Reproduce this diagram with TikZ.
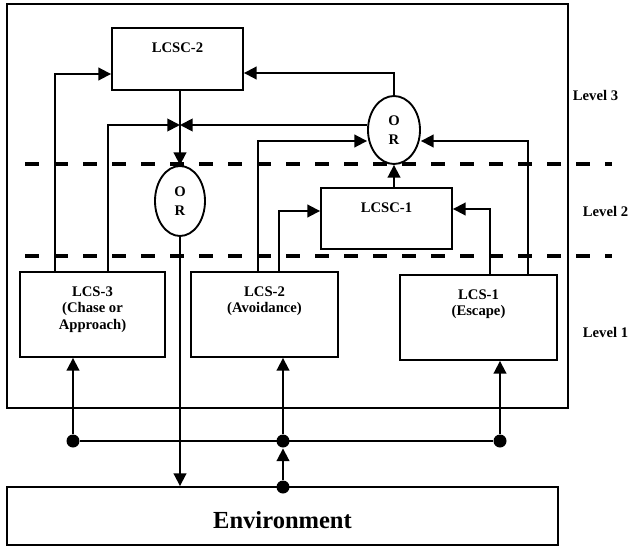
\documentclass[tikz,border=0pt]{standalone}
\usepackage{fontspec}
\setmainfont{Liberation Serif}
\usetikzlibrary{arrows.meta,shapes.geometric}
\begin{document}
\begin{tikzpicture}[x=0.75pt,y=-0.75pt,
  line width=1.4pt,
  box/.style={draw, rectangle, inner sep=0pt},
  boxtxt/.style={font=\bfseries\fontsize{11}{12.4}\selectfont, align=center, inner sep=0pt, anchor=north, yshift=-10.9pt},
  orgate/.style={draw, ellipse, fill=white, inner sep=0pt, font=\bfseries\fontsize{11}{13.9}\selectfont, align=center},
  arr/.style={-{Triangle[length=9.5pt,width=9.5pt]}},
  dot/.style={circle, fill, inner sep=0pt, minimum size=9.75pt},
  lvl/.style={font=\bfseries\fontsize{11}{13}\selectfont, anchor=west, inner sep=0pt},
  sep/.style={line width=3pt, dash pattern=on 10.5pt off 11.25pt}
]
\useasboundingbox (0,0) rectangle (629,546);

% outer frame
\draw (7,4) rectangle (568,408);

% level separators
\draw[sep] (25,164) -- (612,164);
\draw[sep] (25,256) -- (612,256);

% boxes
\node[box, minimum width=98.25pt, minimum height=46.5pt,
  label={[boxtxt]north:LCSC-2}] (LCSC2) at (177.5,59) {};
\node[box, minimum width=98.25pt, minimum height=45.75pt,
  label={[boxtxt]north:LCSC-1}] (LCSC1) at (386.5,218.5) {};
\node[box, minimum width=108.75pt, minimum height=63.75pt,
  label={[boxtxt]north:{LCS-3\\(Chase or\\Approach)}}] (LCS3) at (92.5,314.5) {};
\node[box, minimum width=110.25pt, minimum height=63.75pt,
  label={[boxtxt]north:{LCS-2\\(Avoidance)}}] (LCS2) at (264.5,314.5) {};
\node[box, minimum width=117.75pt, minimum height=63.75pt,
  label={[boxtxt]north:{LCS-1\\(Escape)}}] (LCS1) at (478.5,317.5) {};
\node[box, minimum width=413.25pt, minimum height=43.5pt,
  label={[font=\bfseries\fontsize{18.4}{20}\selectfont, anchor=base, inner sep=0pt, yshift=-3pt]center:Environment}] (Env) at (282.5,516) {};

% OR gates
\node[orgate, minimum width=39pt, minimum height=51pt] (OR1) at (394,130) {O\\R};
\node[orgate, minimum width=37.5pt, minimum height=52.5pt] (OR2) at (180,201) {O\\R};

% junction
\coordinate (J) at (180,125);

% connectors level 3
\draw[arr] (LCS3.north -| 55,0) |- (LCSC2.west |- 0,74);
\draw[arr] (OR1.north) |- (LCSC2.east |- 0,73);
\draw[arr] (LCSC2.south -| OR2.north) -- (OR2.north);
\draw[arr] (LCS3.north -| 108,0) |- (J);
\draw[arr] (OR1.west |- J) -- (J);
\draw[arr] (LCS2.north -| 258,0) |- (OR1.west |- 0,141);
\draw[arr] (LCS2.north -| 279,0) |- (LCSC1.west |- 0,211);
\draw[arr] (LCSC1.north -| OR1.south) -- (OR1.south);
\draw[arr] (LCS1.north -| 490,0) |- (LCSC1.east |- 0,209);
\draw[arr] (LCS1.north -| 528,0) |- (OR1.east |- 0,141);
\draw[arr] (OR2.south) -- (OR2.south |- Env.north);

% sensor bus
\node[dot] (D1) at (73,441) {};
\node[dot] (D2) at (283,441) {};
\node[dot] (D3) at (500,441) {};
\node[dot] (D4) at (283,487) {};
\draw (D1) -- (D3);
\draw[arr] (D1) -- (D1 |- LCS3.south);
\draw[arr] (D2) -- (D2 |- LCS2.south);
\draw[arr] (D3) -- (D3 |- LCS1.south);
\draw[arr] (D4) -- (D2);

% level labels
\node[lvl] (L3) at (572,95) {Level 3};
\node[lvl] (L2) at (582,211) {Level 2};
\node[lvl] (L1) at (582,332) {Level 1};
\end{tikzpicture}
\end{document}
